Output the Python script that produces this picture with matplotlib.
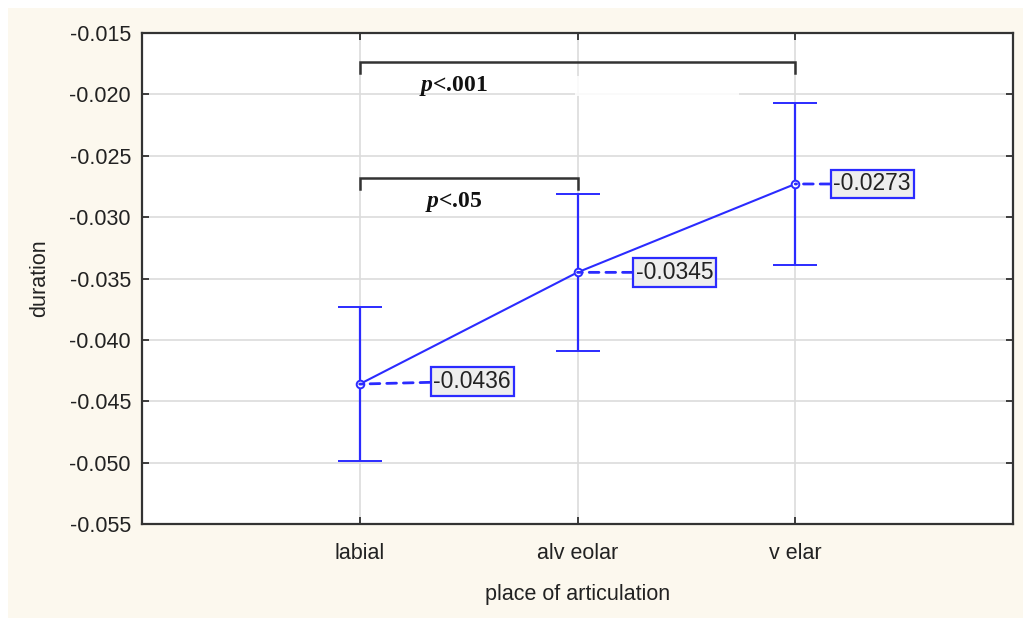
#!/usr/bin/env python
"""Duracion por lugar de articulacion: medias con intervalos y comparaciones."""

import matplotlib

matplotlib.use("Agg")
import matplotlib.pyplot as plt
from matplotlib.patches import Rectangle

# datos
places = ["labial", "alv eolar", "v elar"]
means = [-0.0436, -0.0345, -0.0273]
ci_low = [-0.0499, -0.0409, -0.0339]
ci_high = [-0.0373, -0.0281, -0.0207]
yticks = [-0.055, -0.050, -0.045, -0.040, -0.035, -0.030, -0.025, -0.020, -0.015]

# comparaciones: (i, j, altura del puente, etiqueta)
comparisons = [
    (0, 2, -0.01736, "<.001"),
    (0, 1, -0.02681, "<.05"),
]

BLUE = "#2b2bff"
DARK = "#333333"

plt.rcParams["font.family"] = ["Liberation Sans", "DejaVu Sans"]
plt.rcParams["mathtext.fontset"] = "custom"
plt.rcParams["mathtext.it"] = "Liberation Serif:italic:bold"
plt.rcParams["mathtext.rm"] = "Liberation Serif:bold"

fig = plt.figure(figsize=(10.29, 6.21), dpi=100, facecolor="white")
# fondo crema del panel
fig.patches.append(
    Rectangle((8 / 1029, 3 / 621), 1015 / 1029, 610 / 621,
              transform=fig.transFigure, facecolor="#fcf8ee",
              edgecolor="none", zorder=-10)
)

ax = fig.add_axes([142 / 1029, 1 - 524 / 621, 871 / 1029, 491 / 621])
ax.set_facecolor("white")

x = list(range(len(places)))
yerr = [
    [m - lo for m, lo in zip(means, ci_low)],
    [hi - m for m, hi in zip(means, ci_high)],
]
ax.errorbar(x, means, yerr=yerr, color=BLUE, lw=1.5, elinewidth=1.6,
            capsize=16, capthick=1.6, marker="o", ms=5.5, mfc="white",
            mec=BLUE, mew=1.4, zorder=4)

# etiquetas de valor
label_offsets = [(53, 2), (42, 0), (27.5, 0)]
for xi, m, off in zip(x, means, label_offsets):
    ax.annotate(f"{m:.4f}", xy=(xi, m), xytext=off,
                textcoords="offset points", ha="left", va="center",
                fontsize=16.5, color="#222222",
                bbox=dict(boxstyle="square,pad=0.12", fc="#eeeeee",
                          ec=BLUE, lw=1.6),
                arrowprops=dict(arrowstyle="-", ls=(0, (3.5, 2.5)),
                                color=BLUE, lw=2, shrinkA=0, shrinkB=0),
                zorder=5)

# puentes de significacion
drop = 0.0009
for i, j, h, lab in comparisons:
    ax.plot([i, i, j, j], [h - drop, h, h, h - drop], color=DARK, lw=1.8,
            solid_joinstyle="miter", zorder=3)
    ax.text(i + 0.43, h - 0.00195, r"$\mathit{p}$" + lab, ha="center",
            va="center", fontsize=17, fontfamily="Liberation Serif",
            fontweight="bold", color="#111111", zorder=3)

# borrado blanco sobre la reticula bajo el puente superior
ax.add_patch(Rectangle((0.99, -0.0201), 0.75, 0.0016, facecolor="white",
                       edgecolor="none", alpha=0.85, zorder=2))

ax.set_xlim(-1, 3)
ax.set_ylim(-0.055, -0.015)
ax.set_xticks(x)
ax.set_xticklabels(places)
ax.set_yticks(yticks)
ax.set_yticklabels([f"{v:.3f}" for v in yticks])
ax.tick_params(direction="in", length=5, width=1.2, top=True, right=True,
               labelsize=15.5, colors="#222222", pad=8)
ax.tick_params(axis="x", pad=14)
ax.grid(True, color="#dcdcdc", lw=1.2, zorder=1)
ax.set_axisbelow(True)
for sp in ax.spines.values():
    sp.set_color(DARK)
    sp.set_linewidth(1.6)

ax.set_xlabel("place of articulation", fontsize=15.5, color="#222222",
              labelpad=14)
ax.set_ylabel("duration", fontsize=15.5, color="#222222", labelpad=14)

fig.savefig("out.png", dpi=100, facecolor=fig.get_facecolor())
